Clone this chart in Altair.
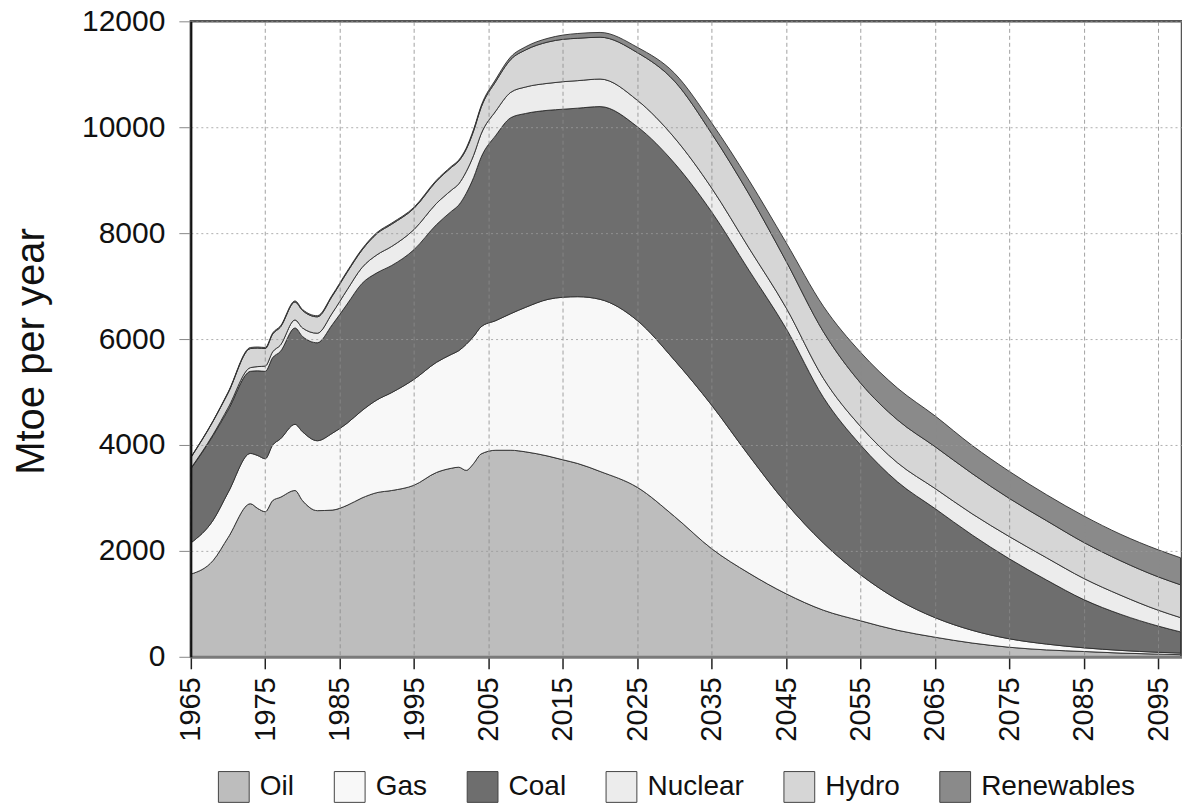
import altair as alt
import pandas as pd

# ---- data (Mtoe per year) ----
years = [1965, 1968, 1970, 1973, 1974, 1975, 1976, 1977, 1979, 1980, 1982, 1984, 1986, 1988,
         1990, 1992, 1995, 1998, 2000, 2001, 2002, 2003, 2004, 2006, 2008, 2010, 2013, 2015,
         2017, 2020, 2025, 2030, 2035, 2040, 2045, 2050, 2055, 2060, 2065, 2070, 2075, 2080,
         2085, 2090, 2095, 2098]

oil = [1560, 1820, 2250, 2890, 2800, 2740, 2950, 3010, 3140, 2950, 2760, 2770, 2860, 3000,
       3100, 3140, 3240, 3480, 3560, 3580, 3520, 3650, 3830, 3900, 3900, 3870, 3790, 3720,
       3650, 3500, 3200, 2650, 2040, 1580, 1190, 880, 680, 500, 370, 260, 180, 130,
       100, 70, 50, 40]

gas = [590, 760, 850, 950, 1000, 1000, 1050, 1100, 1250, 1300, 1320, 1450, 1550, 1650,
       1750, 1850, 2000, 2080, 2150, 2200, 2380, 2400, 2400, 2450, 2580, 2730, 2960, 3070,
       3150, 3250, 3150, 2950, 2710, 2220, 1710, 1270, 870, 580, 370, 240, 160, 110,
       70, 50, 35, 30]

coal = [1400, 1600, 1560, 1550, 1600, 1650, 1650, 1650, 1820, 1800, 1850, 2050, 2250, 2400,
        2400, 2400, 2450, 2600, 2700, 2750, 2850, 3000, 3200, 3500, 3700, 3660, 3570, 3550,
        3560, 3640, 3660, 3720, 3650, 3500, 3300, 2750, 2450, 2220, 2060, 1800, 1510, 1210,
        910, 680, 495, 400]

nuclear = [10, 20, 40, 70, 80, 100, 110, 120, 150, 160, 180, 220, 270, 300,
           340, 360, 380, 400, 400, 400, 410, 420, 440, 460, 480, 500, 510, 520,
           520, 520, 500, 480, 450, 420, 390, 360, 350, 360, 380, 400, 420, 420,
           400, 360, 300, 270]

hydro = [200, 250, 280, 360, 350, 330, 335, 340, 340, 330, 310, 320, 330, 330,
         400, 420, 400, 420, 430, 430, 420, 460, 500, 560, 620, 700, 780, 800,
         800, 790, 900, 1070, 1030, 1020, 880, 880, 820, 810, 790, 760, 720, 700,
         680, 650, 630, 620]

renewables = [10, 10, 15, 20, 20, 20, 20, 20, 20, 20, 20, 20, 20, 20,
              20, 20, 20, 20, 20, 20, 25, 30, 30, 40, 50, 60, 70, 80,
              90, 90, 100, 150, 200, 260, 350, 480, 580, 600, 580, 530, 510, 490,
              500, 500, 510, 510]

sources = ["Oil", "Gas", "Coal", "Nuclear", "Hydro", "Renewables"]
fills = ["#bdbdbd", "#f8f8f8", "#6e6e6e", "#ececec", "#d6d6d6", "#8a8a8a"]

x_ticks = [1965, 1975, 1985, 1995, 2005, 2015, 2025, 2035, 2045, 2055, 2065, 2075, 2085, 2095]
y_ticks = [0, 2000, 4000, 6000, 8000, 10000, 12000]

series = {"Oil": oil, "Gas": gas, "Coal": coal, "Nuclear": nuclear,
          "Hydro": hydro, "Renewables": renewables}

rows = []
for k, name in enumerate(sources):
    for yr, v in zip(years, series[name]):
        rows.append({"year": yr, "source": name, "value": v, "rank": k})
df = pd.DataFrame(rows)

FONT = "Liberation Sans"

chart = alt.Chart(df).mark_area(
    interpolate="monotone", stroke="#2e2e2e", strokeWidth=0.9, strokeJoin="round"
).encode(
    x=alt.X("year:Q",
            scale=alt.Scale(domain=[1965, 2098.2], nice=False, zero=False),
            axis=alt.Axis(values=x_ticks, title=None, format="d",
                          labelAngle=270, labelAlign="right", labelBaseline="middle",
                          labelFont=FONT, labelFontSize=29, labelColor="#111",
                          labelPadding=8, tickSize=12, tickWidth=1.5, tickColor="#222",
                          domainColor="#7a7a7a", domainWidth=3,
                          grid=True, gridColor="#8a8a8a", gridDash=[4, 3], gridWidth=1,
                          gridOpacity=0.8, zindex=1, labelFlush=False, labelOverlap=False)),
    y=alt.Y("value:Q", stack="zero",
            scale=alt.Scale(domain=[0, 12000], nice=False),
            axis=alt.Axis(values=y_ticks, title="Mtoe per year", format="d",
                          labelFont=FONT, labelFontSize=30, labelColor="#111",
                          labelPadding=14, tickSize=12, tickColor="#888", tickWidth=1,
                          domainColor="#111", domainWidth=2,
                          grid=True, gridColor="#9a9a9a", gridDash=[2, 3], gridWidth=1,
                          gridOpacity=0.8, zindex=1,
                          titleFont=FONT, titleFontSize=40, titleFontWeight="normal",
                          titleColor="#111", titleAngle=270, titleAlign="center",
                          titleBaseline="bottom", titleX=-139, titleY=330)),
    color=alt.Color("source:N",
                    scale=alt.Scale(domain=sources, range=fills),
                    legend=alt.Legend(title=None, orient="none", legendX=27, legendY=750,
                                      direction="horizontal", columns=6,
                                      symbolType="square", symbolSize=950,
                                      symbolStrokeColor="#444", symbolStrokeWidth=1,
                                      symbolOpacity=1,
                                      labelFont=FONT, labelFontSize=28, labelColor="#111",
                                      labelOffset=10, labelLimit=300, columnPadding=37)),
    order=alt.Order("rank:Q", sort="ascending"),
).properties(
    width=992, height=636,
    autosize=alt.AutoSizeParams(type="none"),
    padding={"left": 191, "top": 21, "right": 0, "bottom": 152},
    background="white",
).configure_view(stroke="#555", strokeWidth=2.5)

chart.save("out.html", embed_options={"renderer": "svg", "actions": False})
